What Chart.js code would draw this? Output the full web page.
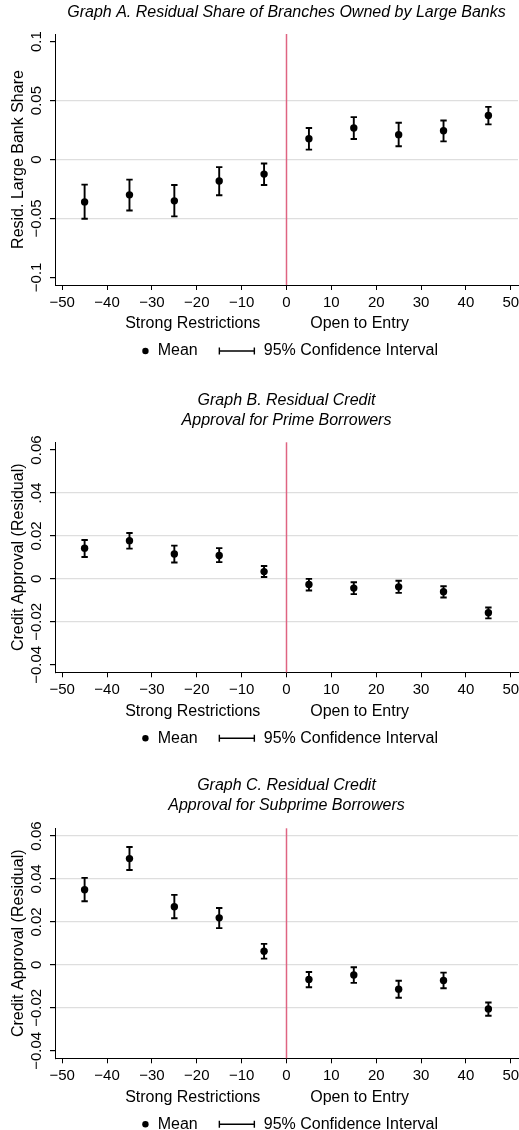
<!DOCTYPE html>
<html>
<head>
<meta charset="utf-8">
<script src="https://cdn.jsdelivr.net/npm/chart.js@4.4.1/dist/chart.umd.min.js"></script>
<style>
    html, body { margin: 0; padding: 0; background: #fff; overflow: hidden; }
    body { width: 519px; height: 1130px; position: relative; }
    .panel { position: absolute; left: 0; width: 519px; }
    .panel canvas { display: block; }
</style>
</head>
<body>
<div class="panel" style="top:0px;height:365px"><canvas id="chartA" width="519" height="365"></canvas></div>
<div class="panel" style="top:380px;height:370px"><canvas id="chartB" width="519" height="370"></canvas></div>
<div class="panel" style="top:765px;height:365px"><canvas id="chartC" width="519" height="365"></canvas></div>
<script>
// bins of distance (bin midpoints)
const bins = [-45, -35, -25, -15, -5, 5, 15, 25, 35, 45];
const xTicks = [-50, -40, -30, -20, -10, 0, 10, 20, 30, 40, 50];
const xTickLabels = ['−50', '−40', '−30', '−20', '−10', '0', '10', '20', '30', '40', '50'];
const sideLabels = ['Strong Restrictions', 'Open to Entry'];
const sideLabelAt = [-20.9, 16.3];

// Graph A: residual large bank share
const shareMean = [-0.0360, -0.0300, -0.0351, -0.0183, -0.0124, 0.0177, 0.0267, 0.0211, 0.0244, 0.0374];
const shareLow = [-0.0503, -0.0433, -0.0483, -0.0303, -0.0216, 0.0084, 0.0174, 0.0112, 0.0154, 0.0298];
const shareHigh = [-0.0213, -0.0171, -0.0216, -0.0065, -0.0034, 0.0267, 0.0360, 0.0312, 0.0331, 0.0447];
const shareTicks = [-0.1, -0.05, 0, 0.05, 0.1];
const shareTickLabels = ['−0.1', '−0.05', '0', '0.05', '0.1'];
const shareGrid = [-0.05, 0, 0.05];

// Graph B: prime borrowers
const primeMean = [0.0143, 0.0178, 0.0116, 0.0109, 0.0034, -0.0026, -0.0043, -0.0037, -0.0060, -0.0158];
const primeLow = [0.0102, 0.0141, 0.0076, 0.0078, 0.0009, -0.0054, -0.0071, -0.0065, -0.0087, -0.0184];
const primeHigh = [0.0181, 0.0214, 0.0155, 0.0143, 0.0060, 0.0000, -0.0016, -0.0009, -0.0034, -0.0133];

// Graph C: subprime borrowers
const subMean = [0.0350, 0.0495, 0.0271, 0.0219, 0.0064, -0.0068, -0.0047, -0.0113, -0.0073, -0.0205];
const subLow = [0.0296, 0.0442, 0.0217, 0.0171, 0.0029, -0.0104, -0.0084, -0.0153, -0.0109, -0.0237];
const subHigh = [0.0405, 0.0549, 0.0326, 0.0265, 0.0098, -0.0033, -0.0011, -0.0074, -0.0036, -0.0175];

const approvalTicks = [-0.04, -0.02, 0, 0.02, 0.04, 0.06];
const primeTickLabels = ['−0.04', '−0.02', '0', '0.02', '.04', '0.06'];
const subTickLabels = ['−0.04', '−0.02', '0', '0.02', '0.04', '0.06'];
const primeGrid = [-0.02, 0, 0.02, 0.04];
const subGrid = [-0.02, 0, 0.02, 0.04, 0.06];

const legendLabels = ['Mean', '95% Confidence Interval'];

Chart.defaults.font.family = '"Liberation Sans", Arial, Helvetica, sans-serif';
Chart.defaults.color = '#000';

const FONT = '"Liberation Sans", Arial, Helvetica, sans-serif';

// vertical line at the border (0)
const zeroLine = {
    id: 'zeroLine',
    beforeDatasetsDraw(chart) {
        const {ctx, chartArea, scales: {x}} = chart;
        const px = x.getPixelForValue(0);
        ctx.save();
        ctx.strokeStyle = '#df6482';
        ctx.lineWidth = 1.5;
        ctx.beginPath();
        ctx.moveTo(px, chartArea.top);
        ctx.lineTo(px, chartArea.bottom);
        ctx.stroke();
        ctx.restore();
    }
};

// 95% CI whiskers
const errorBars = {
    id: 'errorBars',
    beforeDatasetsDraw(chart) {
        const {ctx, scales: {x, y}} = chart;
        const ds = chart.data.datasets[0];
        ctx.save();
        ctx.strokeStyle = '#000';
        ctx.lineWidth = 1.9;
        ds.data.forEach((pt, i) => {
            const px = x.getPixelForValue(pt.x);
            const lo = y.getPixelForValue(ds.errLow[i]);
            const hi = y.getPixelForValue(ds.errHigh[i]);
            ctx.beginPath();
            ctx.moveTo(px, lo); ctx.lineTo(px, hi);
            ctx.moveTo(px - 3.2, lo); ctx.lineTo(px + 3.2, lo);
            ctx.moveTo(px - 3.2, hi); ctx.lineTo(px + 3.2, hi);
            ctx.stroke();
        });
        ctx.restore();
    }
};

// x axis group titles and the bottom legend
const bottomText = {
    id: 'bottomText',
    afterDraw(chart) {
        const {ctx, chartArea, scales: {x}} = chart;
        ctx.save();
        ctx.fillStyle = '#000';
        ctx.font = '16px ' + FONT;
        ctx.textBaseline = 'middle';
        ctx.textAlign = 'center';
        sideLabels.forEach((t, i) => {
            ctx.fillText(t, x.getPixelForValue(sideLabelAt[i]), chartArea.bottom + 39);
        });

        const ly = chartArea.bottom + 66;
        const wMean = ctx.measureText(legendLabels[0]).width;
        const wCI = ctx.measureText(legendLabels[1]).width;
        const total = 3.5 + 12.3 + wMean + 21.6 + 35 + 9.4 + wCI;
        let lx = (chartArea.left + chartArea.right) / 2 + 3.5 - total / 2;
        ctx.textAlign = 'left';
        ctx.beginPath();
        ctx.arc(lx + 3.5, ly, 3.2, 0, Math.PI * 2);
        ctx.fill();
        lx += 3.5 + 12.3;
        ctx.fillText(legendLabels[0], lx, ly);
        lx += wMean + 21.6;
        ctx.strokeStyle = '#000';
        ctx.lineWidth = 1.4;
        ctx.beginPath();
        ctx.moveTo(lx, ly); ctx.lineTo(lx + 35, ly);
        ctx.moveTo(lx, ly - 3.5); ctx.lineTo(lx, ly + 3.5);
        ctx.moveTo(lx + 35, ly - 3.5); ctx.lineTo(lx + 35, ly + 3.5);
        ctx.stroke();
        lx += 35 + 9.4;
        ctx.fillText(legendLabels[1], lx, ly);
        ctx.restore();
    }
};

function makeChart(id, cfg) {
    const ctx = document.getElementById(id).getContext('2d');
    return new Chart(ctx, {
        type: 'scatter',
        data: {
            datasets: [{
                label: 'Mean',
                data: bins.map((b, i) => ({x: b, y: cfg.mean[i]})),
                errLow: cfg.low,
                errHigh: cfg.high,
                backgroundColor: '#000',
                borderWidth: 0,
                pointRadius: 3.7,
                pointHoverRadius: 3.7
            }]
        },
        options: {
            responsive: false,
            animation: false,
            events: [],
            layout: {
                autoPadding: false,
                padding: {left: 0, right: 1, top: 0, bottom: 0}
            },
            plugins: {
                legend: {display: false},
                tooltip: {enabled: false},
                title: {
                    display: true,
                    fullSize: false,
                    text: cfg.title,
                    color: '#000',
                    font: {size: 16, style: 'italic', family: FONT, weight: 'normal', lineHeight: 1.2},
                    padding: {top: cfg.titleTop, bottom: cfg.titleBottom}
                }
            },
            scales: {
                x: {
                    type: 'linear',
                    min: -51.6,
                    max: 51.6,
                    afterBuildTicks: s => { s.ticks = xTicks.map(v => ({value: v})); },
                    afterFit: s => {
                        s.height = cfg.bottomSpace;
                        s.paddingLeft = 0;
                        s.paddingRight = 0;
                    },
                    border: {display: true, color: '#000', width: 1},
                    grid: {
                        drawOnChartArea: false,
                        drawTicks: true,
                        tickLength: 5,
                        tickColor: '#000',
                        tickWidth: 1
                    },
                    ticks: {
                        font: {size: 15, family: FONT},
                        color: '#000',
                        padding: 4,
                        maxRotation: 0,
                        autoSkip: false,
                        callback: (v, i) => xTickLabels[i]
                    }
                },
                y: {
                    type: 'linear',
                    min: cfg.yMin,
                    max: cfg.yMax,
                    afterBuildTicks: s => { s.ticks = cfg.yTicks.map(v => ({value: v})); },
                    afterFit: s => {
                        s.width = 55;
                        s.paddingTop = 0;
                        s.paddingBottom = 0;
                    },
                    border: {display: true, color: '#000', width: 1},
                    grid: {
                        drawOnChartArea: true,
                        drawTicks: true,
                        tickLength: 5,
                        tickColor: '#000',
                        lineWidth: 1.2,
                        color: c => (c.tick && cfg.grid.includes(c.tick.value)) ? '#dedede' : 'rgba(0,0,0,0)'
                    },
                    ticks: {
                        font: {size: 15, family: FONT},
                        color: '#000',
                        minRotation: 90,
                        maxRotation: 90,
                        crossAlign: 'center',
                        padding: -5.5,
                        autoSkip: false,
                        callback: (v, i) => cfg.yTickLabels[i]
                    },
                    title: {
                        display: true,
                        text: cfg.yTitle,
                        color: '#000',
                        font: {size: 16, family: FONT},
                        padding: {top: 9, bottom: 0}
                    }
                }
            }
        },
        plugins: [zeroLine, errorBars, bottomText]
    });
}

makeChart('chartA', {
    title: 'Graph A. Residual Share of Branches Owned by Large Banks',
    titleTop: 3.4, titleBottom: 11.4, bottomSpace: 80,
    mean: shareMean, low: shareLow, high: shareHigh,
    yMin: -0.1065, yMax: 0.1065,
    yTicks: shareTicks, yTickLabels: shareTickLabels, grid: shareGrid,
    yTitle: 'Resid. Large Bank Share'
});

makeChart('chartB', {
    title: ['Graph B. Residual Credit', 'Approval for Prime Borrowers'],
    titleTop: 11.4, titleBottom: 12.5, bottomSpace: 77.7,
    mean: primeMean, low: primeLow, high: primeHigh,
    yMin: -0.0435, yMax: 0.0636,
    yTicks: approvalTicks, yTickLabels: primeTickLabels, grid: primeGrid,
    yTitle: 'Credit Approval (Residual)'
});

makeChart('chartC', {
    title: ['Graph C. Residual Credit', 'Approval for Subprime Borrowers'],
    titleTop: 11.4, titleBottom: 13.5, bottomSpace: 71.7,
    mean: subMean, low: subLow, high: subHigh,
    yMin: -0.0435, yMax: 0.0636,
    yTicks: approvalTicks, yTickLabels: subTickLabels, grid: subGrid,
    yTitle: 'Credit Approval (Residual)'
});
</script>
</body>
</html>
